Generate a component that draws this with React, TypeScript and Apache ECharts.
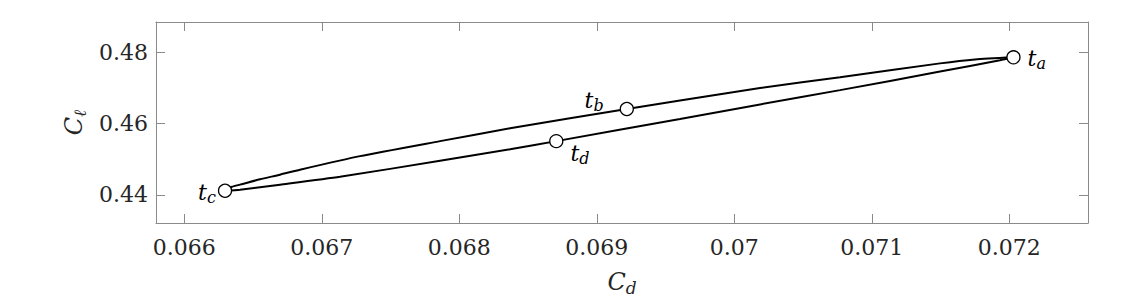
import React, { useEffect, useRef } from "react";
import * as echarts from "echarts";

// Upper branch of the loop (t_a -> t_b -> t_c)
const CD_UPPER = [0.07203, 0.071750, 0.071496, 0.070769, 0.070187, 0.069605, 0.069218, 0.068369, 0.06786, 0.067278, 0.066841, 0.066696, 0.066551, 0.066405, 0.066347, 0.066296];
const CL_UPPER = [0.4786, 0.4780, 0.4769, 0.473, 0.47, 0.4665, 0.4641, 0.4587, 0.4551, 0.4509, 0.4471, 0.4457, 0.4444, 0.4429, 0.4423, 0.4412];
// Lower branch of the loop (t_c -> t_d -> t_a)
const CD_LOWER = [0.066296, 0.066405, 0.066696, 0.067132, 0.06786, 0.068369, 0.068705, 0.069605, 0.070187, 0.070769, 0.071496, 0.071932, 0.07203];
const CL_LOWER = [0.4412, 0.4415, 0.4429, 0.4451, 0.4496, 0.4528, 0.4551, 0.4613, 0.4654, 0.4694, 0.4746, 0.4778, 0.4786];
// Marked instants
const PT_KEYS = ["a", "b", "c", "d"];
const PT_CD = [0.07203, 0.069218, 0.066296, 0.068705];
const PT_CL = [0.4786, 0.4641, 0.4412, 0.4551];
// Axis ranges
const X_RANGE = [0.065794, 0.072572];
const Y_RANGE = [0.43215, 0.4885];

const FONT = "DejaVu Serif";
const AXIS_GRAY = "#8a8a8a";
const TEXT = "#262626";

const labelPlacement: Record<string, any> = {
  a: { position: "right", distance: 7, offset: [0, 1] },
  b: { position: "left", distance: 16, offset: [0, -9] },
  c: { position: "left", distance: 2, offset: [0, 2] },
  d: { position: "right", distance: 7, offset: [0, 12] },
};

const richT = {
  t: { fontFamily: FONT, fontStyle: "italic", fontSize: 22, color: "#000", lineHeight: 26, verticalAlign: "middle" },
  s: { fontFamily: FONT, fontStyle: "italic", fontSize: 16, color: "#000", lineHeight: 16, verticalAlign: "bottom" },
};

export default function App() {
  const ref = useRef<HTMLDivElement>(null);
  useEffect(() => {
    if (!ref.current) return;
    const chart = echarts.init(ref.current, undefined, { renderer: "svg" });
    const upper = CD_UPPER.map((x, i) => [x, CL_UPPER[i]]);
    const lower = CD_LOWER.map((x, i) => [x, CL_LOWER[i]]);
    const pts = PT_KEYS.map((k, i) => ({
      value: [PT_CD[i], PT_CL[i]],
      name: k,
      label: { show: true, formatter: `{t|t}{s|${k}}`, rich: richT, ...labelPlacement[k] },
    }));
    const fmtX = (v: number) => {
      const r = Math.round(v * 1000) / 1000;
      return Math.abs(v - r) < 1e-9 ? String(r) : "";
    };
    const fmtY = (v: number) => {
      const r = Math.round(v * 50) / 50;
      return Math.abs(v - r) < 1e-9 ? String(r) : "";
    };
    const baseAxis = {
      type: "value",
      scale: true,
      axisLine: { show: true, onZero: false, lineStyle: { color: AXIS_GRAY, width: 1 } },
      axisTick: { show: true, inside: true, length: 9, lineStyle: { color: AXIS_GRAY, width: 1 } },
      splitLine: { show: false },
    };
    const nameRich = {
      c: { fontFamily: FONT, fontStyle: "italic", fontSize: 24, color: TEXT, lineHeight: 28, verticalAlign: "middle" },
      s: { fontFamily: FONT, fontStyle: "italic", fontSize: 17, color: TEXT, lineHeight: 17, verticalAlign: "bottom" },
    };
    chart.setOption({
      animation: false,
      backgroundColor: "#fff",
      textStyle: { fontFamily: FONT },
      grid: { left: 156, top: 22, right: 48, bottom: 78, containLabel: false, outerBoundsMode: "none" },
      xAxis: [
        {
          ...baseAxis,
          position: "bottom",
          min: X_RANGE[0],
          max: X_RANGE[1],
          splitNumber: 6,
          axisLabel: { formatter: fmtX, fontFamily: FONT, fontSize: 22, color: TEXT, margin: 13, showMinLabel: false, showMaxLabel: false },
          name: "{c|C}{s|d}",
          nameLocation: "middle",
          nameGap: 45,
          nameTextStyle: { fontFamily: FONT, rich: nameRich },
        },
        {
          ...baseAxis,
          position: "top",
          min: X_RANGE[0],
          max: X_RANGE[1],
          splitNumber: 6,
          axisLabel: { show: false },
        },
      ],
      yAxis: [
        {
          ...baseAxis,
          position: "left",
          min: Y_RANGE[0],
          max: Y_RANGE[1],
          splitNumber: 3,
          axisLabel: { formatter: fmtY, fontFamily: FONT, fontSize: 22, color: TEXT, margin: 8, showMinLabel: false, showMaxLabel: false },
          name: "{c|C}{s|ℓ}",
          nameLocation: "middle",
          nameRotate: 90,
          nameGap: 58,
          nameTextStyle: { fontFamily: FONT, rich: nameRich },
        },
        {
          ...baseAxis,
          position: "right",
          min: Y_RANGE[0],
          max: Y_RANGE[1],
          splitNumber: 3,
          axisLabel: { show: false },
        },
      ],
      series: [
        {
          type: "line",
          data: upper,
          smooth: 0.2,
          showSymbol: false,
          symbol: "none",
          lineStyle: { color: "#000", width: 2 },
          z: 2,
        },
        {
          type: "line",
          data: lower,
          smooth: 0.2,
          showSymbol: false,
          symbol: "none",
          lineStyle: { color: "#000", width: 2 },
          z: 2,
        },
        {
          type: "scatter",
          data: pts,
          symbol: "circle",
          symbolSize: 13,
          itemStyle: { color: "#fff", borderColor: "#000", borderWidth: 1.3, opacity: 1 },
          z: 5,
        },
      ],
    });
    return () => chart.dispose();
  }, []);
  return (
    <div
      ref={ref}
      style={{ position: "fixed", left: 0, top: 0, width: 1136, height: 301, background: "#fff" }}
    />
  );
}
